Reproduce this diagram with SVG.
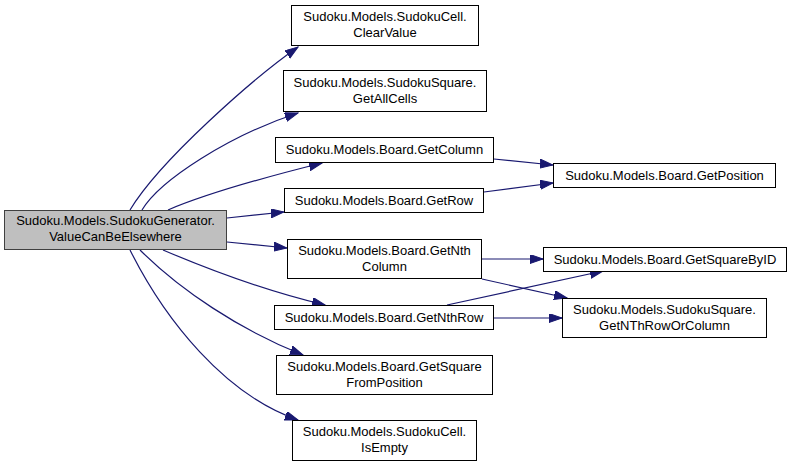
<svg xmlns="http://www.w3.org/2000/svg" width="792" height="468" viewBox="0 0 792 468">
<style>
.n rect{fill:#fff;stroke:#000;stroke-width:1}
.n.main rect{fill:#bfbfbf;stroke:#404040}
.n text{font-family:"Liberation Sans",Arial,sans-serif;font-size:13px;fill:#000;text-anchor:middle}
.e path{fill:none;stroke:#191970;stroke-width:1.2;marker-end:url(#ah)}
</style>
<defs>
<marker id="ah" markerUnits="userSpaceOnUse" markerWidth="14" markerHeight="10" refX="13" refY="4.5" orient="auto">
<path d="M0,0 L13,4.5 L0,9 z" fill="#191970" stroke="#191970" stroke-width="1"/>
</marker>
</defs>
<rect width="792" height="468" fill="#fff"/>
<g id="edges" class="e">
<path d="M130,210 C160,160 255,77 298,47"/>
<path d="M142,210 C160,180 230,135 298,113"/>
<path d="M168,210 C210,192 270,176 322,163"/>
<path d="M227,218 L284,212"/>
<path d="M227,242 L287,248"/>
<path d="M163,250 C210,270 270,292 325,305"/>
<path d="M140,250 C180,290 240,330 303,355"/>
<path d="M130,250 C165,320 225,395 298,420"/>
<path d="M494,159 L553,165"/>
<path d="M484,192 L553,183"/>
<path d="M482,259 L543,259"/>
<path d="M482,279 L567,298"/>
<path d="M447,305 L603,271"/>
<path d="M494,318 L562,318"/>
</g>
<g id="n_main" class="n main"><rect x="4.5" y="210.5" width="222" height="39"/><text x="115.5" y="225">Sudoku.Models.SudokuGenerator.</text><text x="115.5" y="241">ValueCanBeElsewhere</text></g>
<g id="n_clearvalue" class="n"><rect x="291.5" y="5.5" width="187" height="40"/><text x="385" y="21">Sudoku.Models.SudokuCell.</text><text x="385" y="37">ClearValue</text></g>
<g id="n_getallcells" class="n"><rect x="283.5" y="70.5" width="203" height="41"/><text x="385" y="86.5">Sudoku.Models.SudokuSquare.</text><text x="385" y="102.5">GetAllCells</text></g>
<g id="n_getcolumn" class="n"><rect x="275.5" y="137.5" width="218" height="25"/><text x="384.5" y="154">Sudoku.Models.Board.GetColumn</text></g>
<g id="n_getrow" class="n"><rect x="284.5" y="188.5" width="199" height="24"/><text x="384" y="205">Sudoku.Models.Board.GetRow</text></g>
<g id="n_getposition" class="n"><rect x="553.5" y="163.5" width="222" height="24"/><text x="664.5" y="180">Sudoku.Models.Board.GetPosition</text></g>
<g id="n_getnthcolumn" class="n"><rect x="287.5" y="239.5" width="194" height="39"/><text x="384.5" y="255">Sudoku.Models.Board.GetNth</text><text x="384.5" y="271">Column</text></g>
<g id="n_getsquarebyid" class="n"><rect x="543.5" y="247.5" width="243" height="24"/><text x="665" y="264">Sudoku.Models.Board.GetSquareByID</text></g>
<g id="n_getnthrow" class="n"><rect x="274.5" y="305.5" width="219" height="24"/><text x="384" y="322">Sudoku.Models.Board.GetNthRow</text></g>
<g id="n_getnthroworcolumn" class="n"><rect x="562.5" y="298.5" width="204" height="39"/><text x="664.5" y="314">Sudoku.Models.SudokuSquare.</text><text x="664.5" y="330">GetNThRowOrColumn</text></g>
<g id="n_getsquarefromposition" class="n"><rect x="276.5" y="355.5" width="216" height="39"/><text x="384.5" y="371">Sudoku.Models.Board.GetSquare</text><text x="384.5" y="387">FromPosition</text></g>
<g id="n_isempty" class="n"><rect x="292.5" y="420.5" width="184" height="40"/><text x="384.5" y="436">Sudoku.Models.SudokuCell.</text><text x="384.5" y="452">IsEmpty</text></g>
</svg>
